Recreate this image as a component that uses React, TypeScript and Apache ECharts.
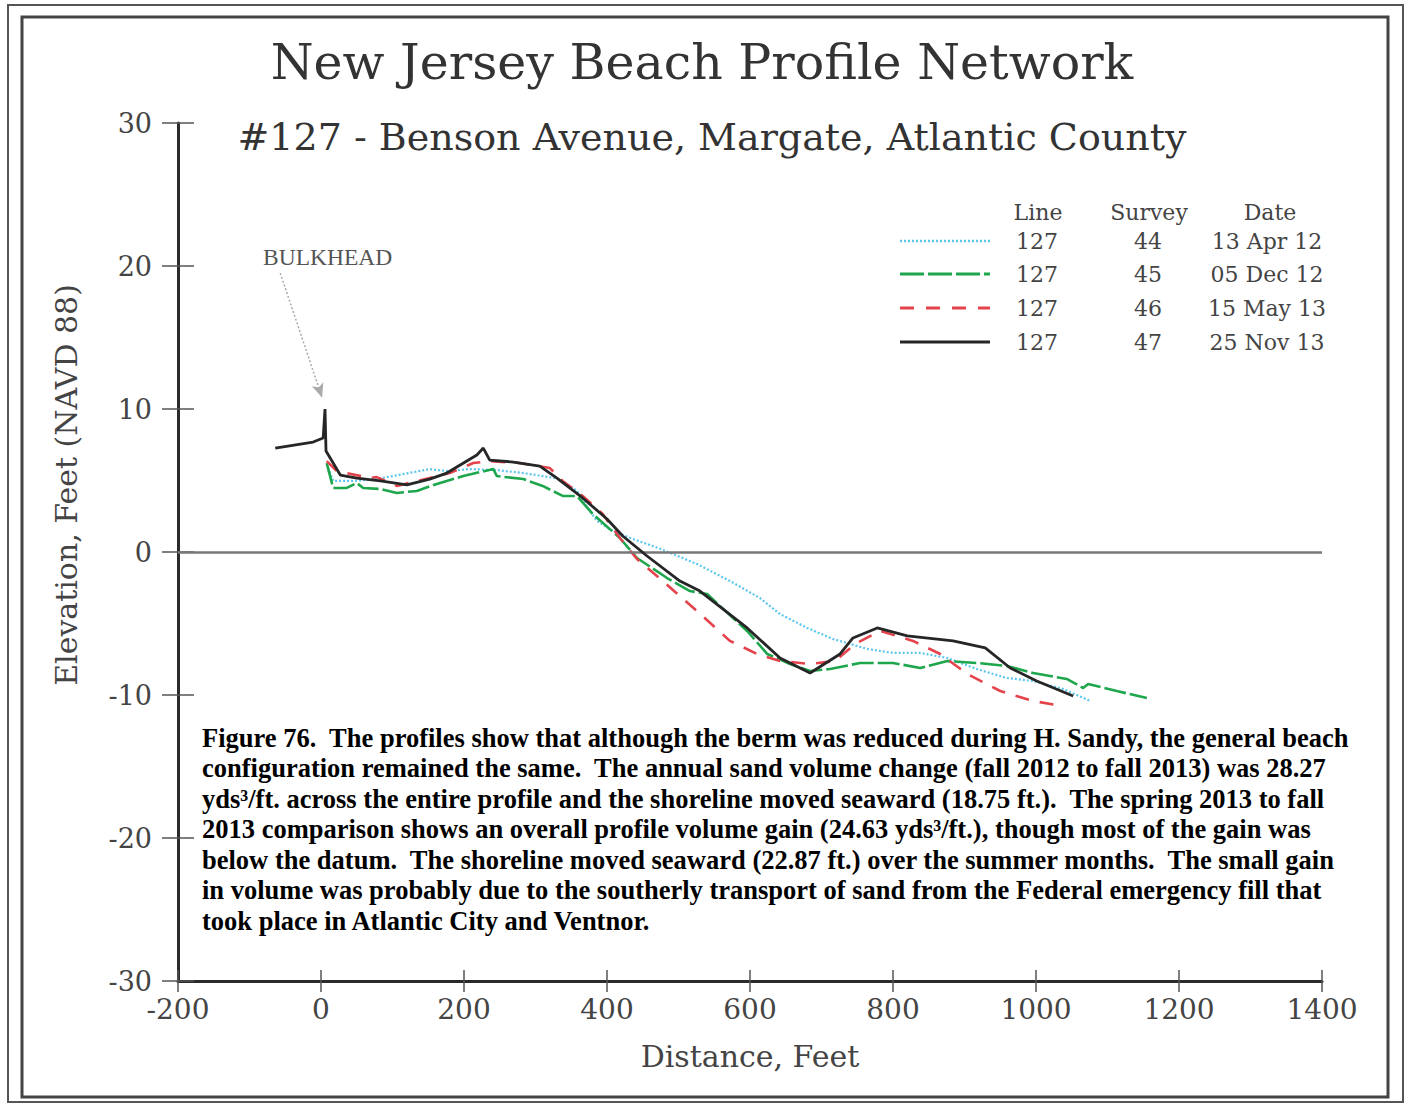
import React, { useEffect, useRef } from "react";
import * as echarts from "echarts";

// ---- Axis ranges / ticks ----
const xMin = -200;
const xMax = 1400;
const xStep = 200;
const yMin = -30;
const yMax = 30;
const yStep = 10;

// ---- Survey 44, 13 Apr 12 (blue dotted) ----
const s44X = [8, 17, 45, 78, 115, 152, 176, 208, 246, 283, 310, 334, 358, 376, 386, 408, 436, 464, 492, 526, 572, 614, 642, 680, 716, 764, 800, 838, 876, 917, 959, 996, 1038, 1076];
const s44Y = [6.15, 4.97, 4.97, 5.1, 5.45, 5.8, 5.66, 5.8, 5.73, 5.52, 5.31, 5.1, 4.27, 2.87, 2.17, 1.47, 0.91, 0.42, -0.14, -0.84, -2.03, -3.22, -4.34, -5.31, -6.08, -6.78, -7.06, -7.06, -7.41, -8.18, -8.81, -9.02, -9.58, -10.42];

// ---- Survey 45, 05 Dec 12 (green long dash) ----
const s45X = [8, 17, 36, 50, 59, 83, 106, 134, 162, 199, 241, 246, 283, 310, 338, 358, 380, 418, 442, 484, 516, 540, 596, 624, 656, 684, 712, 754, 800, 838, 876, 917, 959, 996, 1043, 1066, 1073, 1113, 1155];
const s45Y = [6.22, 4.48, 4.48, 4.83, 4.48, 4.41, 4.13, 4.27, 4.76, 5.31, 5.8, 5.31, 5.1, 4.62, 3.92, 3.92, 2.66, 0.98, -0.42, -1.82, -2.73, -2.94, -5.52, -7.13, -7.83, -8.32, -8.18, -7.76, -7.76, -8.11, -7.62, -7.76, -7.97, -8.46, -8.88, -9.51, -9.23, -9.72, -10.21];

// ---- Survey 46, 15 May 13 (red dashed) ----
const s46X = [8, 22, 69, 78, 106, 152, 180, 213, 236, 278, 320, 338, 366, 394, 418, 442, 478, 526, 572, 610, 642, 684, 719, 747, 782, 828, 866, 904, 950, 996, 1036];
const s46Y = [6.36, 5.66, 5.17, 5.24, 4.62, 5.17, 5.52, 6.22, 6.36, 6.22, 5.87, 4.97, 3.92, 2.66, 0.98, -0.49, -2.03, -4.13, -6.22, -7.13, -7.62, -7.83, -7.62, -6.43, -5.52, -6.22, -7.13, -8.53, -9.72, -10.42, -10.77];

// ---- Survey 47, 25 Nov 13 (black solid) ----
const s47X = [-64, -11, 3, 5.6, 7, 27, 50, 83, 120, 152, 176, 218, 227, 236, 269, 306, 330, 366, 400, 422, 456, 502, 530, 596, 642, 684, 726, 744, 778, 820, 884, 929, 964, 1001, 1052];
const s47Y = [7.27, 7.69, 7.97, 10.0, 7.06, 5.38, 5.17, 4.97, 4.69, 5.1, 5.52, 6.78, 7.27, 6.43, 6.29, 6.01, 5.17, 3.78, 2.31, 1.12, -0.28, -2.03, -2.73, -5.31, -7.41, -8.46, -7.13, -6.01, -5.31, -5.87, -6.22, -6.71, -8.11, -9.02, -10.07];

// ---- Legend table ----
const legendHeaders = ["Line", "Survey", "Date"];
const legendLines = ["127", "127", "127", "127"];
const legendSurveys = ["44", "45", "46", "47"];
const legendDates = ["13 Apr 12", "05 Dec 12", "15 May 13", "25 Nov 13"];

// ---- Annotation ----
const bulkheadLabel = "BULKHEAD";
const arrowFrom = [-57, 19.5];
const arrowTo = [1.5, 10.8];

const titleText = "New Jersey Beach Profile Network";
const subtitleText = "#127 - Benson Avenue, Margate, Atlantic County";
const xName = "Distance, Feet";
const yName = "Elevation, Feet (NAVD 88)";

const captionLines = [
  "Figure 76.  The profiles show that although the berm was reduced during H. Sandy, the general beach",
  "configuration remained the same.  The annual sand volume change (fall 2012 to fall 2013) was 28.27",
  "yds\u00b3/ft. across the entire profile and the shoreline moved seaward (18.75 ft.).  The spring 2013 to fall",
  "2013 comparison shows an overall profile volume gain (24.63 yds\u00b3/ft.), though most of the gain was",
  "below the datum.  The shoreline moved seaward (22.87 ft.) over the summer months.  The small gain",
  "in volume was probably due to the southerly transport of sand from the Federal emergency fill that",
  "took place in Atlantic City and Ventnor.",
];

const zip = (xs: number[], ys: number[]) => xs.map((x, i) => [x, ys[i]]);

const COLORS = {
  blue: "#5cc6ee",
  green: "#1da64c",
  red: "#e5434b",
  black: "#262626",
};

const SERIF_WIDE = "DejaVu Serif";
const SERIF = "Liberation Serif";

export default function App() {
  const ref = useRef<HTMLDivElement>(null);

  useEffect(() => {
    document.body.style.margin = "0";
    if (!ref.current) return;
    const chart = echarts.init(ref.current, null, { renderer: "svg" });

    const legendStyles = [
      { color: COLORS.blue, width: 2.5, type: [2, 2] as any },
      { color: COLORS.green, width: 3, type: [24, 4] as any },
      { color: COLORS.red, width: 3, type: [14, 12] as any },
      { color: COLORS.black, width: 3, type: "solid" as any },
    ];
    const rowY = [241, 274, 308, 342];

    const graphics: any[] = [
      { type: "rect", shape: { x: 8, y: 5, width: 1395, height: 1097 }, style: { fill: "none", stroke: "#555", lineWidth: 2 } },
      { type: "rect", shape: { x: 22, y: 17, width: 1366, height: 1080 }, style: { fill: "none", stroke: "#444", lineWidth: 3 } },
      { type: "text", x: 702, y: 62, style: { text: titleText, fontSize: 49, fontFamily: SERIF_WIDE, fill: "#333", align: "center", verticalAlign: "middle" } },
      { type: "text", x: 712, y: 137, style: { text: subtitleText, fontSize: 38, fontFamily: SERIF_WIDE, fill: "#333", align: "center", verticalAlign: "middle" } },
      { type: "text", x: 263, y: 257, style: { text: bulkheadLabel, fontSize: 23.5, fontFamily: SERIF, fill: "#555", align: "left", verticalAlign: "middle" } },
      { type: "text", x: 66, y: 485, rotation: Math.PI / 2, style: { text: yName, fontSize: 30, fontFamily: SERIF_WIDE, fill: "#444", align: "center", verticalAlign: "middle" } },
    ];
    const headerX = [1038, 1149, 1270];
    legendHeaders.forEach((h, i) => {
      graphics.push({ type: "text", x: headerX[i], y: 212, style: { text: h, fontSize: 22, fontFamily: SERIF_WIDE, fill: "#444", align: "center", verticalAlign: "middle" } });
    });
    rowY.forEach((y, i) => {
      graphics.push({ type: "line", shape: { x1: 900, y1: y, x2: 990, y2: y }, style: { stroke: legendStyles[i].color, lineWidth: legendStyles[i].width, lineDash: legendStyles[i].type === "solid" ? null : legendStyles[i].type } });
      graphics.push({ type: "text", x: 1037, y, style: { text: legendLines[i], fontSize: 22, fontFamily: SERIF_WIDE, fill: "#444", align: "center", verticalAlign: "middle" } });
      graphics.push({ type: "text", x: 1148, y, style: { text: legendSurveys[i], fontSize: 22, fontFamily: SERIF_WIDE, fill: "#444", align: "center", verticalAlign: "middle" } });
      graphics.push({ type: "text", x: 1267, y, style: { text: legendDates[i], fontSize: 22, fontFamily: SERIF_WIDE, fill: "#444", align: "center", verticalAlign: "middle" } });
    });
    const capY = [738, 768, 799, 829, 860, 890, 921];
    captionLines.forEach((t, i) => {
      graphics.push({ type: "text", x: 202, y: capY[i], style: { text: t, fontSize: 26.5, fontWeight: "bold", fontFamily: SERIF, fill: "#000", align: "left", verticalAlign: "middle" } });
    });

    const axisLabelStyle = { color: "#444" };

    const option: any = {
      animation: false,
      backgroundColor: "#fff",
      grid: { left: 178, top: 123, width: 1144, height: 858, containLabel: false },
      xAxis: [
        {
          type: "value", min: xMin, max: xMax, interval: xStep, position: "bottom",
          name: xName, nameLocation: "middle", nameGap: 60,
          nameTextStyle: { fontSize: 30, fontFamily: SERIF_WIDE, color: "#444" },
          axisLine: { show: true, onZero: false, lineStyle: { color: "#2a2a2a", width: 3 } },
          axisTick: { show: true, inside: false, length: 11, lineStyle: { color: "#555", width: 1.5 } },
          axisLabel: { ...axisLabelStyle, fontSize: 28, fontFamily: SERIF_WIDE, margin: 14, formatter: (v: number) => String(v) },
          splitLine: { show: false },
        },
        {
          type: "value", min: xMin, max: xMax, interval: xStep, position: "bottom", offset: 0,
          axisLine: { show: false, onZero: false },
          axisTick: { show: true, inside: true, length: 11, lineStyle: { color: "#555", width: 1.5 } },
          axisLabel: { show: false },
          splitLine: { show: false },
        },
      ],
      yAxis: [
        {
          type: "value", min: yMin, max: yMax, interval: yStep, position: "left",
          axisLine: { show: true, onZero: false, lineStyle: { color: "#2a2a2a", width: 3 } },
          axisTick: { show: true, inside: false, length: 16, lineStyle: { color: "#555", width: 1.5 } },
          axisLabel: { ...axisLabelStyle, fontSize: 27, fontFamily: SERIF_WIDE, margin: 26 },
          splitLine: { show: false },
        },
        {
          type: "value", min: yMin, max: yMax, interval: yStep, position: "left", offset: 0,
          axisLine: { show: false, onZero: false },
          axisTick: { show: true, inside: true, length: 16, lineStyle: { color: "#555", width: 1.5 } },
          axisLabel: { show: false },
          splitLine: { show: false },
        },
      ],
      series: [
        {
          name: "44", type: "line", data: zip(s44X, s44Y), symbol: "none", z: 2,
          lineStyle: { color: COLORS.blue, width: 2.2, type: [2, 2] },
          markLine: {
            silent: true, animation: false, label: { show: false },
            data: [
              [
                { coord: arrowFrom, symbol: "none" },
                { coord: arrowTo, symbol: "arrow", symbolSize: [9, 14] },
              ],
            ],
            lineStyle: { color: "#aaa", width: 1.5, type: [2, 2] },
            itemStyle: { color: "#bbb" },
          },
        },
        {
          name: "45", type: "line", data: zip(s45X, s45Y), symbol: "none", z: 3,
          lineStyle: { color: COLORS.green, width: 2.6, type: [22, 4] },
        },
        {
          name: "46", type: "line", data: zip(s46X, s46Y), symbol: "none", z: 4,
          lineStyle: { color: COLORS.red, width: 2.6, type: [14, 11] },
        },
        {
          name: "47", type: "line", data: zip(s47X, s47Y), symbol: "none", z: 5,
          lineStyle: { color: COLORS.black, width: 2.8, type: "solid" },
          markLine: {
            silent: true, symbol: ["none", "none"], label: { show: false },
            data: [{ yAxis: 0 }],
            lineStyle: { color: "#777", width: 2.5, type: "solid" },
          },
        },
      ],
      graphic: graphics,
    };

    chart.setOption(option);
    return () => chart.dispose();
  }, []);

  return <div ref={ref} style={{ width: 1409, height: 1107 }} />;
}
